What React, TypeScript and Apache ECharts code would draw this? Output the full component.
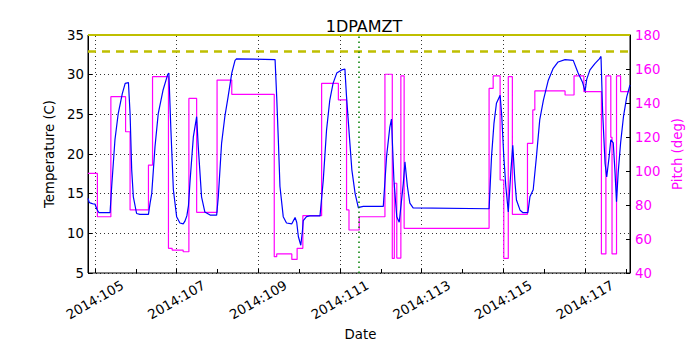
import React, { useEffect, useRef } from 'react';
import * as echarts from 'echarts';

// x range (day of year 2014)
const X_MIN = 104.83;
const X_MAX = 118.1;
const TICK_MIN = 105;
const TICK_MAX = 118;

const labeledDays = [105, 107, 109, 111, 113, 115, 117];
const xTickLabels = ['2014:105', '2014:107', '2014:109', '2014:111', '2014:113', '2014:115', '2014:117'];

const tempDays = [
  104.83, 104.86, 104.9, 104.96, 105.0, 105.05, 105.1, 105.37, 105.41, 105.49, 105.57, 105.67, 105.74, 105.82,
  105.86, 105.9, 105.94, 106.02, 106.1, 106.31, 106.35, 106.39, 106.47, 106.55, 106.67, 106.78, 106.81, 106.86,
  106.92, 107.0, 107.08, 107.16, 107.2, 107.25, 107.29, 107.33, 107.41, 107.49, 107.53, 107.61, 107.69, 107.82,
  107.98, 108.02, 108.1, 108.18, 108.26, 108.35, 108.43, 108.47, 109.41, 109.45, 109.49, 109.53, 109.61, 109.69,
  109.82, 109.9, 109.94, 109.98, 110.04, 110.08, 110.1, 110.18, 110.26, 110.51, 110.59, 110.67, 110.75, 110.83,
  110.92, 111.04, 111.12, 111.16, 111.23, 111.29, 111.37, 111.45, 111.49, 111.57, 112.06, 112.14, 112.22, 112.26,
  112.32, 112.39, 112.45, 112.55, 112.59, 112.65, 112.71, 112.79, 114.65, 114.71, 114.77, 114.83, 114.92, 114.96,
  115.01, 115.06, 115.12, 115.18, 115.23, 115.28, 115.32, 115.41, 115.48, 115.6, 115.65, 115.73, 115.81, 115.89,
  115.98, 116.1, 116.22, 116.34, 116.51, 116.71, 116.83, 116.94, 117.0, 117.04, 117.12, 117.24, 117.35, 117.39,
  117.43, 117.49, 117.53, 117.59, 117.63, 117.69, 117.73, 117.77, 117.81, 117.87, 117.94, 118.02, 118.1,
];
const tempValues = [
  14.4, 13.9, 13.8, 13.7, 13.7, 13.0, 12.6, 12.6, 15.9, 21.8, 25.1, 27.6, 28.9, 29.0,
  25.1, 18.0, 14.6, 12.5, 12.4, 12.4, 13.8, 15.0, 20.9, 25.1, 28.1, 30.0, 30.2, 23.0,
  15.5, 12.1, 11.3, 11.2, 11.5, 12.2, 13.5, 16.7, 22.2, 24.7, 20.9, 14.6, 12.7, 12.3,
  12.3, 14.6, 21.3, 24.7, 27.2, 30.2, 31.8, 32.0, 31.9, 27.2, 21.8, 15.9, 12.1, 11.3,
  11.2, 12.0, 11.4, 9.6, 8.5, 10.3, 11.6, 12.1, 12.2, 12.2, 16.7, 23.0, 26.8, 28.9,
  30.2, 30.6, 30.7, 27.2, 22.2, 18.0, 15.0, 13.2, 13.3, 13.4, 13.4, 19.7, 23.4, 24.4,
  16.7, 12.1, 11.4, 16.3, 19.0, 15.9, 13.8, 13.2, 13.1, 19.7, 23.9, 26.4, 27.4, 24.8,
  19.7, 15.9, 12.7, 17.6, 21.1, 16.7, 14.2, 12.9, 12.6, 12.6, 14.6, 15.5, 19.7, 24.3,
  26.8, 29.3, 30.8, 31.6, 31.9, 31.8, 30.2, 29.0, 27.9, 29.4, 30.6, 31.4, 32.0, 32.3,
  25.3, 18.8, 17.1, 19.7, 21.8, 21.4, 18.0, 14.0, 17.6, 21.4, 24.7, 27.2, 28.7,
];

// pitch: each value holds from its day until the next day
const pitchDays = [
  104.83, 105.06, 105.39, 105.75, 105.86, 106.31, 106.41, 106.8, 106.89, 107.16, 107.3, 107.49, 107.99, 108.35,
  109.39, 109.45, 109.82, 109.95, 110.09, 110.55, 110.96, 111.16, 111.22, 111.47, 112.1, 112.28, 112.33, 112.39,
  112.49, 112.57, 114.65, 114.75, 114.92, 115.01, 115.12, 115.22, 115.59, 115.72, 115.77, 116.51, 116.73, 116.97,
  117.4, 117.51, 117.63, 117.66, 117.77, 117.87, 118.1,
];
const pitchValues = [
  98.6, 73.1, 143.7, 123.1, 77.1, 103.5, 155.5, 54.5, 53.5, 52.5, 142.7, 75.7, 153.5, 145.1,
  49.6, 51.2, 48.0, 54.5, 73.7, 151.6, 141.8, 77.1, 65.3, 73.1, 156.9, 48.6, 92.8, 48.8,
  155.9, 66.3, 148.6, 155.9, 94.7, 48.6, 155.5, 74.5, 116.3, 135.9, 147.1, 144.7, 155.9, 146.7,
  51.2, 155.9, 119.8, 51.2, 155.9, 146.7, 146.7,
];

const tempCautionLimit = 33;
const tempUpperLimit = 35;
const markerDay = 111.47;

const FONT = 'DejaVu Sans';

export default function App() {
  const ref = useRef<HTMLDivElement>(null);
  useEffect(() => {
    if (!ref.current) return;
    const chart = echarts.init(ref.current, null, { renderer: 'svg' });
    const plotLeft = 88;
    const plotWidth = 542;
    const plotTop = 35;
    const plotHeight = 238;
    const pxPerDay = plotWidth / (X_MAX - X_MIN);
    const tickLeft = plotLeft + (TICK_MIN - X_MIN) * pxPerDay;
    const tickWidth = (TICK_MAX - TICK_MIN) * pxPerDay;

    chart.setOption({
      animation: false,
      backgroundColor: '#ffffff',
      title: {
        text: '1DPAMZT',
        left: plotLeft + plotWidth / 2,
        textAlign: 'center',
        top: 13,
        textStyle: { fontFamily: FONT, fontSize: 16, fontWeight: 'normal', color: '#000' },
      },
      grid: [
        {
          left: plotLeft, top: plotTop, width: plotWidth, height: plotHeight,
          show: true, borderColor: '#000', borderWidth: 1, backgroundColor: 'transparent',
        },
        { left: tickLeft, top: plotTop, width: tickWidth, height: plotHeight },
      ],
      xAxis: [
        { type: 'value', gridIndex: 0, min: X_MIN, max: X_MAX, show: false },
        {
          type: 'value', gridIndex: 1, min: TICK_MIN, max: TICK_MAX, interval: 1,
          axisLine: { show: false },
          axisTick: { show: true, inside: true, length: 4, lineStyle: { color: '#000', width: 1 } },
          splitLine: { show: false },
          axisLabel: {
            rotate: 30, align: 'center', verticalAlign: 'middle', margin: 27,
            fontFamily: FONT, fontSize: 13.3, color: '#000',
            formatter: (v: number) => {
              const i = labeledDays.indexOf(Math.round(v));
              return i >= 0 && Math.abs(v - Math.round(v)) < 1e-6 ? xTickLabels[i] : '';
            },
          },
          name: 'Date', nameLocation: 'middle', nameGap: 52,
          nameTextStyle: { fontFamily: FONT, fontSize: 13.3, color: '#000' },
        },
      ],
      yAxis: [
        {
          type: 'value', gridIndex: 0, min: 5, max: 35, interval: 5, position: 'left',
          axisLine: { show: true, lineStyle: { color: '#000' } },
          axisTick: { show: true, inside: true, length: 4, lineStyle: { color: '#000' } },
          axisLabel: { margin: 4, fontFamily: FONT, fontSize: 13.3, color: '#000' },
          splitLine: { show: true, lineStyle: { color: '#000', width: 0.8, type: [1, 3] } },
          name: 'Temperature (C)', nameLocation: 'middle', nameGap: 29, nameRotate: 90,
          nameTextStyle: { fontFamily: FONT, fontSize: 13.3, color: '#000' },
        },
        {
          type: 'value', gridIndex: 0, min: 40, max: 180, interval: 20, position: 'right',
          axisLine: { show: true, lineStyle: { color: '#000' } },
          axisTick: { show: true, inside: true, length: 4, lineStyle: { color: '#000' } },
          axisLabel: { margin: 5, fontFamily: FONT, fontSize: 13.3, color: '#ff00ff' },
          splitLine: { show: false },
          name: 'Pitch (deg)', nameLocation: 'middle', nameGap: 31, nameRotate: 90,
          nameTextStyle: { fontFamily: FONT, fontSize: 13.3, color: '#ff00ff' },
        },
        { type: 'value', gridIndex: 1, min: 0, max: 1, show: false },
      ],
      series: [
        {
          type: 'line', xAxisIndex: 0, yAxisIndex: 1, z: 2,
          data: pitchDays.map((d, i) => [d, pitchValues[i]]),
          step: 'end', showSymbol: false, silent: true,
          lineStyle: { color: '#ff00ff', width: 1.2 },
          markLine: {
            silent: true, symbol: 'none', z: 1, label: { show: false },
            lineStyle: { color: '#000', width: 0.8, type: [1, 3] },
            data: labeledDays.map((d) => ({ xAxis: d })),
          },
        },
        {
          type: 'line', xAxisIndex: 0, yAxisIndex: 0, z: 3,
          data: tempDays.map((d, i) => [d, tempValues[i]]),
          showSymbol: false, silent: true,
          lineStyle: { color: '#0000ff', width: 1.2 },
          markLine: {
            silent: true, symbol: 'none', label: { show: false },
            data: [
              { yAxis: tempCautionLimit, lineStyle: { color: '#bfbf00', width: 2.5, type: [8, 6] } },
              { yAxis: tempUpperLimit, lineStyle: { color: '#bfbf00', width: 2, type: 'solid' } },
              { xAxis: markerDay, lineStyle: { color: '#008000', width: 1.5, type: [1.5, 3.5] } },
            ],
          },
        },
      ],
    });
    return () => chart.dispose();
  }, []);
  return <div ref={ref} style={{ position: 'fixed', left: 0, top: 0, width: 700, height: 350, background: '#fff' }} />;
}
